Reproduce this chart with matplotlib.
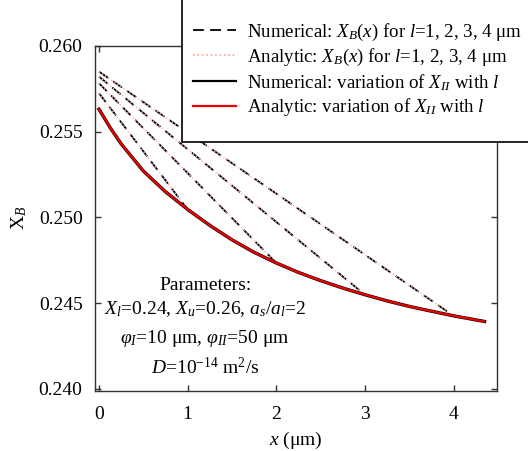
import matplotlib
matplotlib.use("Agg")
import matplotlib.pyplot as plt
from matplotlib.patches import Rectangle

plt.rcParams['font.family'] = ['Liberation Serif', 'DejaVu Serif']
plt.rcParams['mathtext.fontset'] = 'custom'
plt.rcParams['mathtext.rm'] = 'Liberation Serif'
plt.rcParams['mathtext.it'] = 'Liberation Serif:italic'
plt.rcParams['mathtext.bf'] = 'Liberation Serif:bold'

# X_II as a function of l (envelope)
env_x = [0, 0.125, 0.25, 0.5, 0.75, 1.0, 1.25, 1.5, 1.75, 2.0, 2.25, 2.5,
         2.75, 3.0, 3.25, 3.5, 3.75, 4.0, 4.35]
env_y = [0.25630, 0.25523, 0.25428, 0.25270, 0.25149, 0.25046, 0.24953, 0.24869,
         0.24796, 0.24734, 0.24679, 0.24631, 0.24588, 0.24549, 0.24513, 0.24481,
         0.24453, 0.24426, 0.24393]

# X_B(x) profiles for l = 1, 2, 3, 4 um
l_values = [1, 2, 3, 4]
prof_x = {1: [0, 0.5, 1.0], 2: [0, 1.0, 2.0], 3: [0, 1.5, 3.0], 4: [0, 2.0, 4.0]}
prof_y = {1: [0.25723, 0.25385, 0.25046],
          2: [0.25781, 0.25258, 0.24734],
          3: [0.25820, 0.25185, 0.24549],
          4: [0.25849, 0.25138, 0.24426]}

fig = plt.figure(figsize=(5.28, 4.51), dpi=100)
ax = fig.add_axes([95/528, 60/451, 402/528, 345.3/451])

for l in l_values:
    ax.plot(prof_x[l], prof_y[l], color='black', lw=1.3, dashes=(6, 3.5), zorder=2)
    ax.plot(prof_x[l], prof_y[l], color='#ffb0b0', lw=1.0, ls=':', zorder=3)

ax.plot(env_x, env_y, color='black', lw=2.4, zorder=4)
ax.plot(env_x, env_y, color='#ee0000', lw=1.6, zorder=5)

ax.set_xlim(-0.045, 4.49)
ax.set_ylim(0.23988, 0.260)
ax.set_xticks([0, 1, 2, 3, 4])
ax.set_yticks([0.240, 0.245, 0.250, 0.255, 0.260])
ax.set_yticklabels(['0.240', '0.245', '0.250', '0.255', '0.260'])
ax.tick_params(direction='in', length=4, width=1, labelsize=14,
               top=True, right=True, colors='#333333', labelcolor='black')
ax.tick_params(axis='y', pad=9)
ax.tick_params(axis='x', pad=11)
for s in ax.spines.values():
    s.set_color('#333333')
    s.set_linewidth(1)

ax.set_xlabel('$x$ (μm)', fontsize=14, labelpad=5)
ax.set_ylabel(r'$\mathrm{X}_B$', fontsize=14, labelpad=0)
ax.yaxis.set_label_coords(-0.165, 0.5)

# parameter block
params = ['Parameters:',
          '$X_l$=0.24, $X_u$=0.26, $a_s$/$a_l$=2',
          r'$\varphi_I$=10 μm, $\varphi_{II}$=50 μm',
          '$D$=10$^{-14}$ m$^2$/s']
ys = [0.305, 0.237, 0.152, 0.068]
for t, yy in zip(params, ys):
    ax.text(0.274, yy, t, transform=ax.transAxes, ha='center', va='center', fontsize=14)

# legend box sticking out over the top of the axes
fig.patches.append(Rectangle((182/528, 1 - 142/451), 0.7, 0.4, transform=fig.transFigure,
                             facecolor='white', edgecolor='black', lw=1.2, zorder=1))

handles = [
    plt.Line2D([], [], color='black', lw=1.3, dashes=(6, 3.5)),
    plt.Line2D([], [], color='#ff9f9f', lw=1.2, ls=':'),
    plt.Line2D([], [], color='black', lw=1.6),
    plt.Line2D([], [], color='#ee0000', lw=1.6),
]
labels = ['Numerical: $X_B(x)$ for $l$=1, 2, 3, 4 μm',
          'Analytic: $X_B(x)$ for $l$=1, 2, 3, 4 μm',
          'Numerical: variation of $X_{II}$ with $l$',
          'Analytic: variation of $X_{II}$ with $l$']
fig.legend(handles, labels, loc='upper left', bbox_to_anchor=(193/528, 1 - 22/451),
           frameon=False, fontsize=13.6, borderpad=0, borderaxespad=0,
           handlelength=2.3, handletextpad=0.55, labelspacing=0.2)

fig.savefig('out.png', dpi=100)
